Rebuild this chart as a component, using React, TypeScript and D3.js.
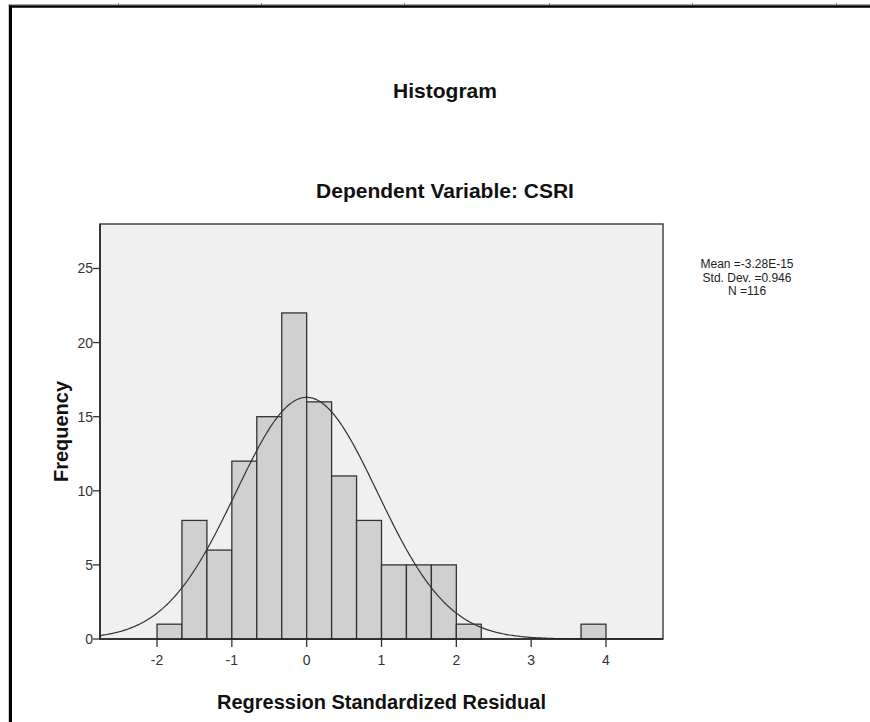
import React from "react";
import * as d3 from "d3";

const binStarts: number[] = [-2, -5 / 3, -4 / 3, -1, -2 / 3, -1 / 3, 0, 1 / 3, 2 / 3, 1, 4 / 3, 5 / 3, 2, 11 / 3];
const binCounts: number[] = [1, 8, 6, 12, 15, 22, 16, 11, 8, 5, 5, 5, 1, 1];
const binWidth = 1 / 3;
const xTicks: number[] = [-2, -1, 0, 1, 2, 3, 4];
const yTicks: number[] = [0, 5, 10, 15, 20, 25];
const statsLines: string[] = ["Mean =-3.28E-15", "Std. Dev. =0.946", "N =116"];
const mean = -3.28e-15;
const sd = 0.946;
const n = 116;

const W = 870;
const H = 722;
const frame = { left: 100, right: 663, top: 224, bottom: 639 };
const FONT = "'Liberation Sans', Arial, Helvetica, sans-serif";

export default function App() {
  const x = d3.scaleLinear().domain([-2.762, 4.762]).range([frame.left, frame.right]);
  const y = d3.scaleLinear().domain([0, 28]).range([frame.bottom, frame.top]);

  const curvePts: [number, number][] = d3.range(0, 401).map((i) => {
    const v = -2.762 + (i / 400) * (4.762 + 2.762);
    const dens = Math.exp(-0.5 * ((v - mean) / sd) ** 2) / (sd * Math.sqrt(2 * Math.PI));
    return [v, dens * n * binWidth];
  });
  const line = d3
    .line<[number, number]>()
    .x((d) => x(d[0]))
    .y((d) => y(d[1]))
    .curve(d3.curveLinear);

  const rulerTicks = [118, 261, 404, 549, 692, 836];

  return (
    <svg
      width={W}
      height={H}
      style={{ position: "absolute", left: 0, top: 0, background: "#fff" }}
      fontFamily={FONT}
    >
      {/* page ruler & border */}
      <line x1={8} x2={W} y1={4.5} y2={4.5} stroke="#aaa" strokeWidth={1} />
      {rulerTicks.map((t) => (
        <line key={t} x1={t + 0.5} x2={t + 0.5} y1={3} y2={5} stroke="#888" strokeWidth={1} />
      ))}
      <line x1={8.5} x2={8.5} y1={5} y2={H} stroke="#ccc" strokeWidth={1} />
      <line x1={9} x2={W} y1={6.5} y2={6.5} stroke="#000" strokeWidth={2.5} />
      <line x1={10.5} x2={10.5} y1={5.5} y2={H} stroke="#000" strokeWidth={3} />

      {/* titles */}
      <text x={445} y={98} textAnchor="middle" fontSize={21} fontWeight="bold" fill="#111">
        Histogram
      </text>
      <text x={445} y={198} textAnchor="middle" fontSize={21} fontWeight="bold" fill="#111">
        Dependent Variable: CSRI
      </text>

      {/* frame */}
      <rect
        x={frame.left}
        y={frame.top}
        width={frame.right - frame.left}
        height={frame.bottom - frame.top}
        fill="#f0f0f0"
        stroke="#444"
        strokeWidth={1.5}
      />

      {/* bars */}
      {binStarts.map((s, i) => (
        <rect
          key={i}
          x={x(s)}
          y={y(binCounts[i])}
          width={x(s + binWidth) - x(s)}
          height={y(0) - y(binCounts[i])}
          fill="#d0d0d0"
          stroke="#333"
          strokeWidth={1.3}
        />
      ))}

      {/* normal curve */}
      <path d={line(curvePts) || ""} fill="none" stroke="#333" strokeWidth={1.2} />

      {/* x axis */}
      <line x1={frame.left - 1} x2={frame.right} y1={frame.bottom} y2={frame.bottom} stroke="#222" strokeWidth={1.5} />
      {xTicks.map((t) => (
        <g key={t}>
          <line x1={x(t)} x2={x(t)} y1={frame.bottom} y2={frame.bottom + 8} stroke="#333" strokeWidth={1.3} />
          <text x={x(t)} y={frame.bottom + 26} textAnchor="middle" fontSize={14} fill="#333">
            {t}
          </text>
        </g>
      ))}
      <text x={(frame.left + frame.right) / 2} y={709} textAnchor="middle" fontSize={20} fontWeight="bold" fill="#111">
        Regression Standardized Residual
      </text>

      {/* y axis */}
      <line x1={frame.left} x2={frame.left} y1={frame.top} y2={frame.bottom} stroke="#222" strokeWidth={1.5} />
      {yTicks.map((t) => (
        <g key={t}>
          <line x1={frame.left - 7} x2={frame.left} y1={y(t)} y2={y(t)} stroke="#333" strokeWidth={1.3} />
          <text x={frame.left - 7} y={y(t) + 5} textAnchor="end" fontSize={14} fill="#333">
            {t}
          </text>
        </g>
      ))}
      <text
        transform={`translate(68, ${(frame.top + frame.bottom) / 2}) rotate(-90)`}
        textAnchor="middle"
        fontSize={20}
        fontWeight="bold"
        fill="#111"
      >
        Frequency
      </text>

      {/* stats */}
      {statsLines.map((s, i) => (
        <text key={s} x={747} y={268 + i * 13.5} textAnchor="middle" fontSize={12} fill="#222">
          {s}
        </text>
      ))}
    </svg>
  );
}
